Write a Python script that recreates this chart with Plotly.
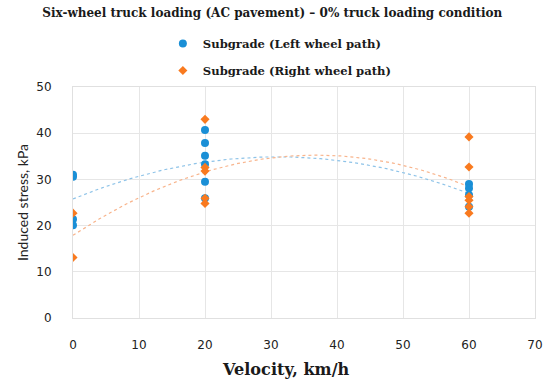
import numpy as np
import plotly.graph_objects as go

# Data
left_x = [0, 0, 0, 0, 20, 20, 20, 20, 20, 20, 60, 60, 60, 60]
left_y = [30.6, 31.0, 21.4, 20.1, 40.7, 37.9, 35.1, 33.3, 29.5, 25.9, 29.0, 28.1, 26.6, 24.1]

right_x = [0, 0, 20, 20, 20, 20, 20, 60, 60, 60, 60, 60, 60]
right_y = [22.7, 13.1, 43.0, 32.6, 31.8, 24.8, 25.9, 39.2, 32.7, 26.3, 25.5, 22.7, 24.1]

x_ticks = [0, 10, 20, 30, 40, 50, 60, 70]
y_ticks = [0, 10, 20, 30, 40, 50]

blue = "#1A8FD6"
orange = "#F97A1F"
serif = "DejaVu Serif, serif"

# 2nd-order polynomial trendlines (as in the spreadsheet chart)
xs = np.linspace(0, 60, 121)
pl = np.polyfit(left_x, left_y, 2)
pr = np.polyfit(right_x, right_y, 2)

fig = go.Figure()
fig.add_trace(go.Scatter(x=xs, y=np.polyval(pl, xs), mode="lines",
                         line=dict(color="#8EC3E8", width=1.2, dash="dot"),
                         showlegend=False, hoverinfo="skip"))
fig.add_trace(go.Scatter(x=xs, y=np.polyval(pr, xs), mode="lines",
                         line=dict(color="#F8B48C", width=1.2, dash="dot"),
                         showlegend=False, hoverinfo="skip"))
fig.add_trace(go.Scatter(x=left_x, y=left_y, mode="markers", name="Subgrade (Left wheel path)",
                         marker=dict(symbol="circle", size=8, color=blue),
                         legendgroup="a"))
fig.add_trace(go.Scatter(x=right_x, y=right_y, mode="markers", name="Subgrade (Right wheel path)",
                         marker=dict(symbol="diamond", size=7, color=orange),
                         legendgroup="b"))

fig.update_layout(
    width=550, height=382,
    margin=dict(l=73, r=15, t=87, b=64),
    paper_bgcolor="white", plot_bgcolor="white",
    title=dict(text="<b>Six-wheel truck loading (AC pavement) – 0% truck loading condition</b>",
               x=0.495, xanchor="center", y=0.966, yanchor="middle",
               font=dict(family=serif, size=12, color="#1a1a1a")),
    legend=dict(x=0.1945, xanchor="left", y=1.251, yanchor="top", orientation="v",
                tracegroupgap=8,
                font=dict(family=serif, size=11.6, color="#1a1a1a", weight="bold"),
                bgcolor="rgba(0,0,0,0)"),
    font=dict(family="DejaVu Sans, sans-serif", size=12, color="#222"),
    annotations=[dict(text="<b>Velocity, km/h</b>", xref="paper", yref="paper",
                      x=(286 - 73) / 462, y=-0.223, xanchor="center", yanchor="middle",
                      showarrow=False, font=dict(family=serif, size=16.1, color="#1a1a1a"))],
)
fig.update_xaxes(range=[0, 70], tickvals=x_ticks, showgrid=True, gridcolor="#E6E6E6",
                 showline=True, linecolor="#E0E0E0", mirror=True, zeroline=False,
                 automargin=False, ticks="", tickfont=dict(size=12), ticklabelstandoff=16)
fig.update_yaxes(range=[0, 50], tickvals=y_ticks, showgrid=True, gridcolor="#E6E6E6",
                 showline=True, linecolor="#E0E0E0", mirror=True, zeroline=False,
                 automargin=False, ticks="", tickfont=dict(size=12), ticklabelstandoff=18,
                 title=dict(text="Induced stress, kPa",
                            font=dict(family="Lato, sans-serif", size=14), standoff=4))

fig.write_html("out.html", config={"displayModeBar": False},
               post_script="document.body.style.margin='0';")
